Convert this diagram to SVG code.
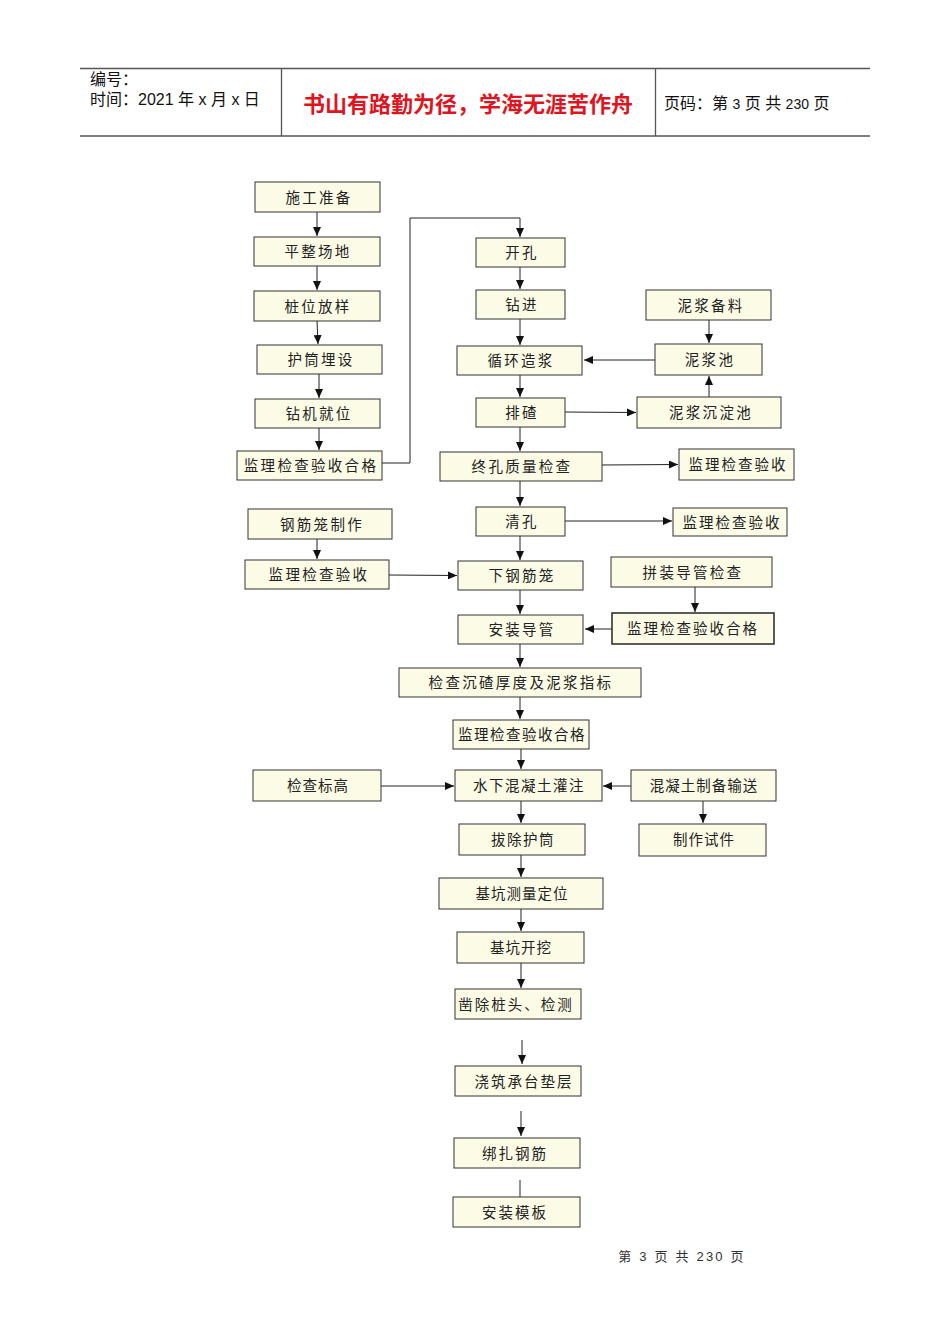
<svg xmlns="http://www.w3.org/2000/svg" width="950" height="1344" viewBox="0 0 950 1344">
<defs>
<marker id="ah" markerWidth="9" markerHeight="8" refX="9" refY="4" orient="auto" markerUnits="userSpaceOnUse">
<path d="M0,0 L9,4 L0,8 Z" fill="#111"/>
</marker>
<style>
.hl{stroke:#555;stroke-width:1.3;fill:none}
.box rect{fill:#FCFCE6;stroke:#333;stroke-width:1}
.box text{font-family:"Noto Sans CJK SC","Noto Sans CJK JP",sans-serif;font-size:14.5px;fill:#222;text-anchor:middle;letter-spacing:2.3px}
.c{stroke:#222;stroke-width:1;fill:none}
.ca{stroke:#222;stroke-width:1;fill:none;marker-end:url(#ah)}
.ht{font-family:"Liberation Sans","Noto Sans CJK SC",sans-serif;font-size:16px;fill:#111}
</style>
</defs>
<rect width="950" height="1344" fill="#fff"/>
<g id="header">
<line class="hl" x1="80" y1="68.5" x2="870" y2="68.5"/>
<line class="hl" x1="80" y1="136" x2="870" y2="136"/>
<line class="hl" x1="281.5" y1="68" x2="281.5" y2="136"/>
<line class="hl" x1="655.5" y1="68" x2="655.5" y2="136"/>
<text class="ht" x="90" y="85">编号：</text>
<text class="ht" x="90" y="105">时间：2021 年 x 月 x 日</text>
<text x="468" y="112" text-anchor="middle" font-family="Noto Sans CJK SC,sans-serif" font-size="22" font-weight="bold" fill="#E0141E">书山有路勤为径，学海无涯苦作舟</text>
<text class="ht" x="664" y="109">页码：第 <tspan font-size="14">3</tspan> 页  共 <tspan font-size="14">230</tspan> 页</text>
</g>
<g id="connectors">
<line class="ca" x1="317" y1="212" x2="317" y2="236"/>
<line class="ca" x1="317" y1="266" x2="317" y2="290"/>
<line class="ca" x1="317" y1="321" x2="318" y2="344"/>
<line class="ca" x1="319" y1="374" x2="319" y2="398"/>
<line class="ca" x1="319" y1="428" x2="319" y2="450"/>
<polyline class="ca" points="382,463 410,463 410,218 520,218 520,237"/>
<line class="ca" x1="520" y1="267" x2="520" y2="289"/>
<line class="ca" x1="520" y1="319" x2="520" y2="345"/>
<line class="ca" x1="520" y1="375" x2="520" y2="397"/>
<line class="ca" x1="520" y1="427" x2="520" y2="451"/>
<line class="ca" x1="520" y1="481" x2="520" y2="506"/>
<line class="ca" x1="520" y1="536" x2="520" y2="560"/>
<line class="ca" x1="520" y1="590" x2="520" y2="614"/>
<line class="ca" x1="520" y1="644" x2="520" y2="667"/>
<line class="ca" x1="520" y1="697" x2="520" y2="719"/>
<line class="ca" x1="521" y1="749" x2="521" y2="769"/>
<line class="ca" x1="521" y1="801" x2="521" y2="823"/>
<line class="ca" x1="521" y1="855" x2="521" y2="877"/>
<line class="ca" x1="521" y1="909" x2="521" y2="931"/>
<line class="ca" x1="521" y1="963" x2="521" y2="988"/>
<line class="ca" x1="522" y1="1040" x2="522" y2="1064"/>
<line class="ca" x1="521" y1="1111" x2="521" y2="1136"/>
<line class="c" x1="520" y1="1180" x2="520" y2="1197"/>
<line class="ca" x1="709" y1="320" x2="709" y2="343"/>
<line class="ca" x1="655" y1="360" x2="584" y2="360"/>
<line class="ca" x1="709" y1="397" x2="709" y2="376"/>
<line class="ca" x1="565" y1="412" x2="636" y2="412.5"/>
<line class="ca" x1="602" y1="465" x2="678" y2="464.5"/>
<line class="ca" x1="565" y1="521" x2="672" y2="521"/>
<line class="ca" x1="317" y1="539" x2="317" y2="559"/>
<line class="ca" x1="389" y1="575" x2="457" y2="575.5"/>
<line class="ca" x1="695" y1="587" x2="695" y2="612"/>
<line class="ca" x1="612" y1="629" x2="585" y2="629"/>
<line class="ca" x1="381" y1="786" x2="454" y2="786"/>
<line class="ca" x1="631" y1="786" x2="603" y2="786"/>
<line class="ca" x1="703" y1="801" x2="703" y2="823"/>
</g>
<g id="n1" class="box"><rect x="255" y="182" width="125" height="30"/><text x="319" y="203">施工准备</text></g>
<g id="n2" class="box"><rect x="254" y="237" width="126" height="29"/><text x="318" y="257">平整场地</text></g>
<g id="n3" class="box"><rect x="254" y="291" width="126" height="30"/><text x="318" y="312">桩位放样</text></g>
<g id="n4" class="box"><rect x="257" y="345" width="125" height="29"/><text x="321" y="365">护筒埋设</text></g>
<g id="n5" class="box"><rect x="255" y="399" width="125" height="29"/><text x="319" y="419">钻机就位</text></g>
<g id="n6" class="box"><rect x="237" y="451" width="145" height="29"/><text x="311" y="471">监理检查验收合格</text></g>
<g id="n7" class="box"><rect x="476" y="238" width="89" height="29"/><text x="522" y="258">开孔</text></g>
<g id="n8" class="box"><rect x="476" y="290" width="89" height="29"/><text x="522" y="310">钻进</text></g>
<g id="n9" class="box"><rect x="457" y="346" width="125" height="29"/><text x="521" y="366">循环造浆</text></g>
<g id="n10" class="box"><rect x="476" y="398" width="89" height="29"/><text x="522" y="418">排碴</text></g>
<g id="n11" class="box"><rect x="440" y="452" width="162" height="29"/><text x="522" y="472">终孔质量检查</text></g>
<g id="n12" class="box"><rect x="476" y="507" width="89" height="29"/><text x="522" y="527">清孔</text></g>
<g id="n13" class="box"><rect x="458" y="561" width="125" height="29"/><text x="522" y="581">下钢筋笼</text></g>
<g id="n14" class="box"><rect x="458" y="615" width="125" height="29"/><text x="522" y="635">安装导管</text></g>
<g id="n15" class="box"><rect x="399" y="668" width="242" height="29"/><text x="521" y="688">检查沉碴厚度及泥浆指标</text></g>
<g id="n16" class="box"><rect x="453" y="720" width="136" height="29"/><text x="522" y="740" style="letter-spacing:1.5px">监理检查验收合格</text></g>
<g id="n17" class="box"><rect x="455" y="770" width="147" height="31"/><text x="529" y="791" style="letter-spacing:1.5px">水下混凝土灌注</text></g>
<g id="n18" class="box"><rect x="459" y="824" width="126" height="31"/><text x="523" y="845" style="letter-spacing:1.5px">拔除护筒</text></g>
<g id="n19" class="box"><rect x="439" y="878" width="164" height="31"/><text x="522" y="899" style="letter-spacing:1px">基坑测量定位</text></g>
<g id="n20" class="box"><rect x="457" y="932" width="127" height="31"/><text x="521" y="953" style="letter-spacing:1px">基坑开挖</text></g>
<g id="n21" class="box"><rect x="455" y="989" width="126" height="30"/><text x="516" y="1010" style="letter-spacing:2px">凿除桩头、检测</text></g>
<g id="n22" class="box"><rect x="455" y="1066" width="126" height="30"/><text x="524" y="1087" style="letter-spacing:2px">浇筑承台垫层</text></g>
<g id="n23" class="box"><rect x="454" y="1138" width="126" height="30"/><text x="515" y="1159" style="letter-spacing:2px">绑扎钢筋</text></g>
<g id="n24" class="box"><rect x="453" y="1197" width="127" height="30"/><text x="515" y="1218" style="letter-spacing:2px">安装模板</text></g>
<g id="n25" class="box"><rect x="646" y="290" width="125" height="30"/><text x="711" y="311">泥浆备料</text></g>
<g id="n26" class="box"><rect x="655" y="344" width="107" height="31"/><text x="710" y="365">泥浆池</text></g>
<g id="n27" class="box"><rect x="637" y="397" width="144" height="31"/><text x="711" y="418">泥浆沉淀池</text></g>
<g id="n28" class="box"><rect x="679" y="449" width="115" height="31"/><text x="738" y="470" style="letter-spacing:2px">监理检查验收</text></g>
<g id="n29" class="box"><rect x="673" y="508" width="114" height="28"/><text x="732" y="528" style="letter-spacing:2px">监理检查验收</text></g>
<g id="n30" class="box"><rect x="611" y="557" width="161" height="30"/><text x="693" y="578">拼装导管检查</text></g>
<g id="n31" class="box"><rect x="612" y="613" width="162" height="31" style="stroke-width:1.6"/><text x="693" y="634" style="letter-spacing:2px">监理检查验收合格</text></g>
<g id="n32" class="box"><rect x="631" y="770" width="145" height="31"/><text x="704" y="791" style="letter-spacing:1px">混凝土制备输送</text></g>
<g id="n33" class="box"><rect x="639" y="824" width="127" height="32"/><text x="704" y="845" style="letter-spacing:1px">制作试件</text></g>
<g id="n34" class="box"><rect x="248" y="509" width="144" height="30"/><text x="322" y="530">钢筋笼制作</text></g>
<g id="n35" class="box"><rect x="245" y="560" width="144" height="29"/><text x="319" y="580">监理检查验收</text></g>
<g id="n36" class="box"><rect x="253" y="770" width="128" height="31"/><text x="318" y="791" style="letter-spacing:1px">检查标高</text></g>
<text x="682" y="1261" text-anchor="middle" font-family="Liberation Sans,Noto Sans CJK SC,sans-serif" font-size="13" fill="#333" style="letter-spacing:2.2px">第 3 页 共 230 页</text>
</svg>
